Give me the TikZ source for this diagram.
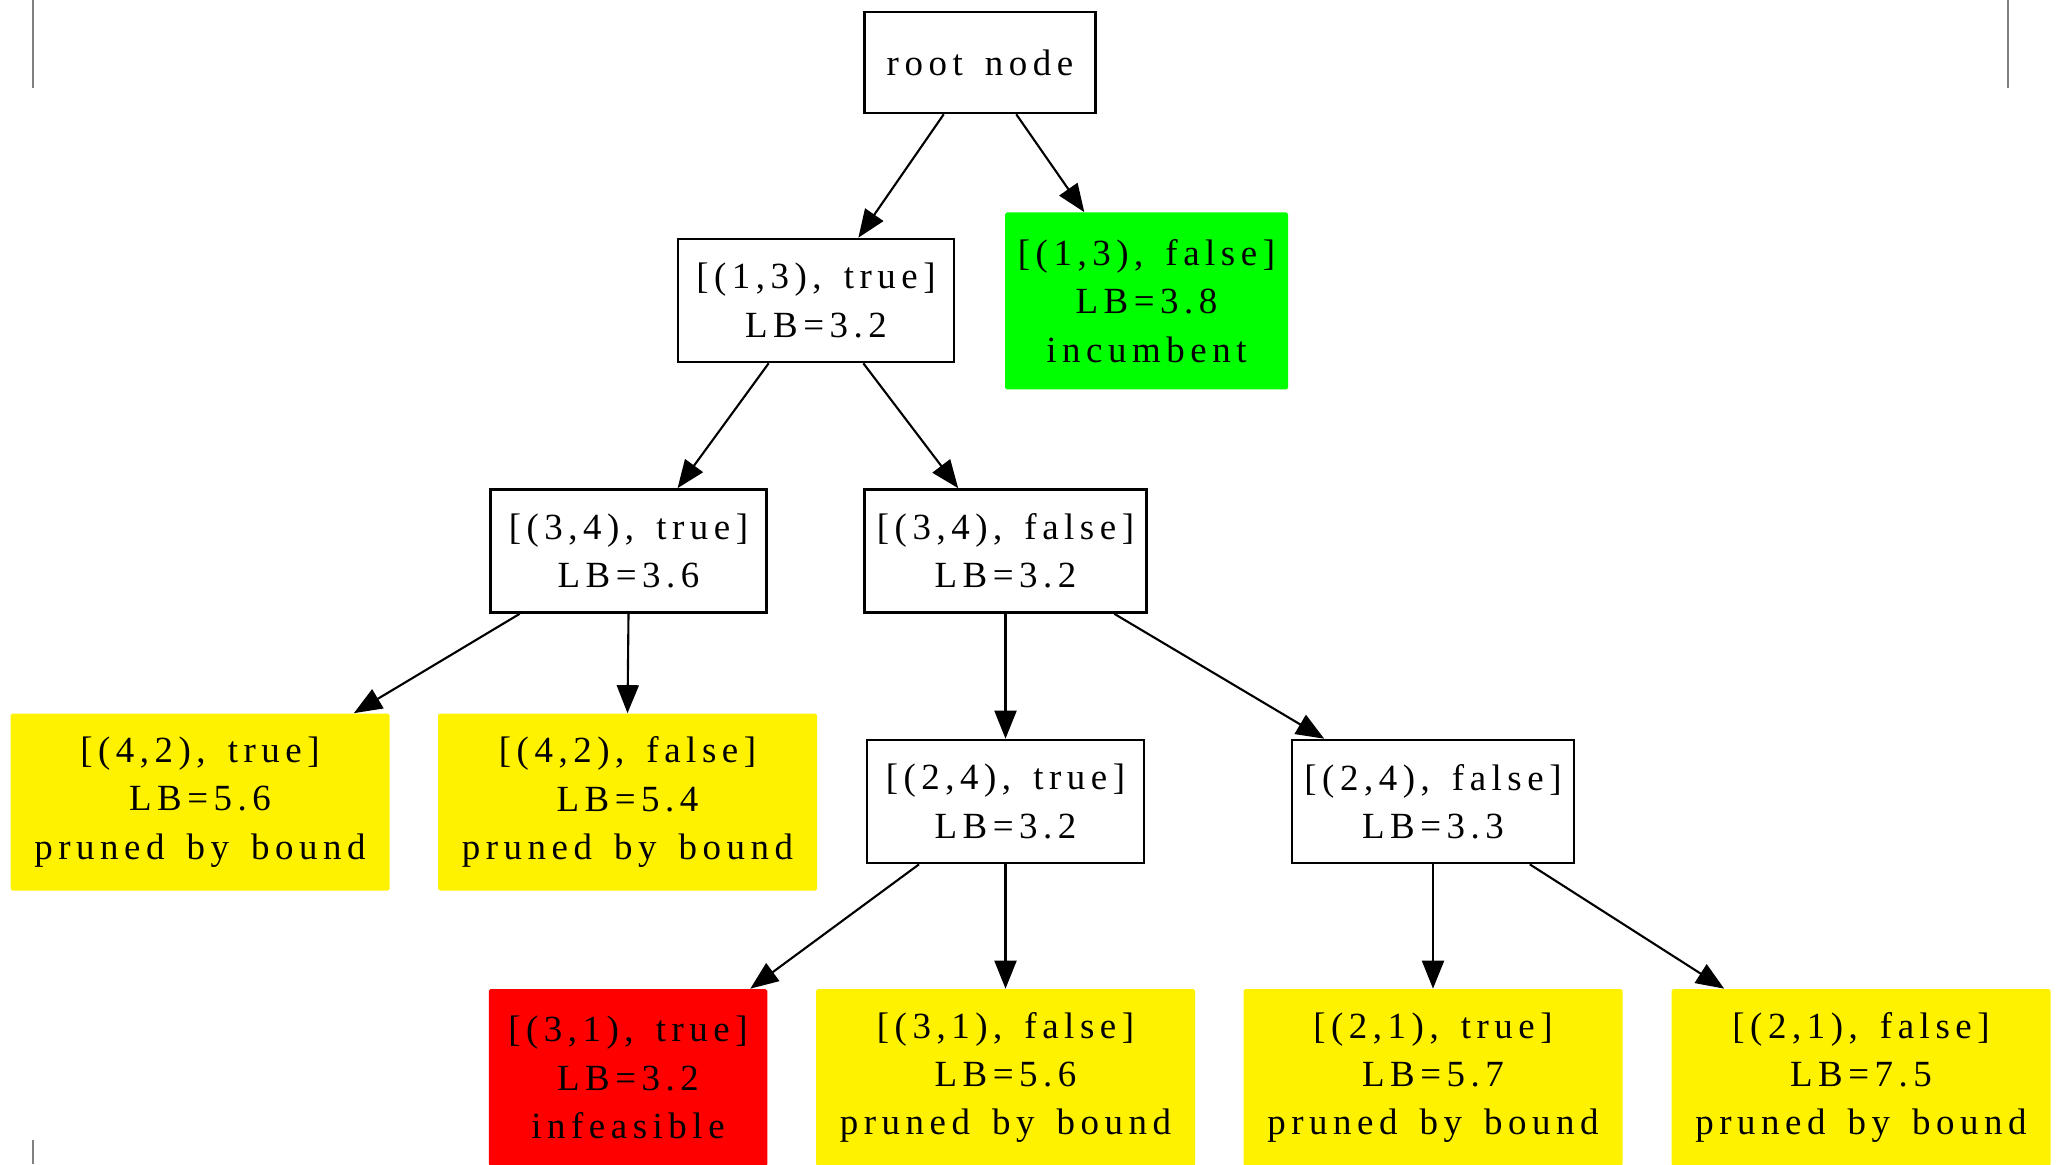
\documentclass[tikz,border=0pt]{standalone}
\usepackage{fontspec}
\setmainfont{Liberation Serif}[LetterSpace=15,WordSpace=1.5]
\usepackage{xcolor}
\usetikzlibrary{arrows.meta}

\begin{document}
\begin{tikzpicture}[
  box/.style={draw,line width=1.5pt,inner sep=0pt,align=center,minimum height=2.46cm},
  leaf/.style={inner sep=0pt,align=center,minimum height=3.54cm,rounded corners=1pt},
  edge/.style={line width=1.2pt,-{Triangle[length=0.56cm,width=0.44cm]}},
  font=\fontsize{21pt}{27.5pt}\selectfont]
\useasboundingbox (0,0) rectangle (41.14,23.28);
\draw[gray,line width=1.1pt] (0.66,23.28) -- (0.66,21.52);
\draw[gray,line width=1.1pt] (40.16,23.28) -- (40.16,21.52);
\draw[gray,line width=1.1pt] (0.66,0) -- (0.66,0.48);
\node[box,minimum width=4.62cm,minimum height=2.02cm] (root) at (19.60,22.03) {root node};
\node[box,minimum width=5.52cm] (t13) at (16.32,17.27) {[(1,3), true]\\LB=3.2};
\node[leaf,fill=green,minimum width=5.66cm] (f13) at (22.93,17.26) {[(1,3), false]\\LB=3.8\\incumbent};
\node[box,minimum width=5.51cm] (t34) at (12.57,12.26) {[(3,4), true]\\LB=3.6};
\node[box,minimum width=5.64cm] (f34) at (20.11,12.26) {[(3,4), false]\\LB=3.2};
\node[box,minimum width=5.54cm] (t24) at (20.11,7.25) {[(2,4), true]\\LB=3.2};
\node[box,minimum width=5.64cm] (f24) at (28.66,7.25) {[(2,4), false]\\LB=3.3};
\node[leaf,fill=red,minimum width=5.57cm] (t31) at (12.56,1.73) {[(3,1), true]\\LB=3.2\\infeasible};
\foreach \nm/\x/\y/\txt in {t42/4.00/7.24/{[(4,2), true]\\LB=5.6},f42/12.55/7.24/{[(4,2), false]\\LB=5.4},
    f31/20.11/1.73/{[(3,1), false]\\LB=5.6},t21/28.66/1.73/{[(2,1), true]\\LB=5.7},f21/37.22/1.73/{[(2,1), false]\\LB=7.5}}
{
    \node[leaf,fill=yellow,minimum width=7.58cm] (\nm) at (\x,\y) {\txt\\pruned by bound};
}
\foreach \a/\b in {root.235/t13.56,root.305/f13.125,t13.233/t34.52,t13.307/f34.127,t34.210/t42.30,
    t34.south/f42.north,f34.south/t24.north,f34.330/f24.150,t24.216/t31.36,t24.south/f31.north,
    f24.south/t21.north,f24.327/f21.147}
{
    \draw[edge] (\a) -- (\b);
}
\end{tikzpicture}
\end{document}
